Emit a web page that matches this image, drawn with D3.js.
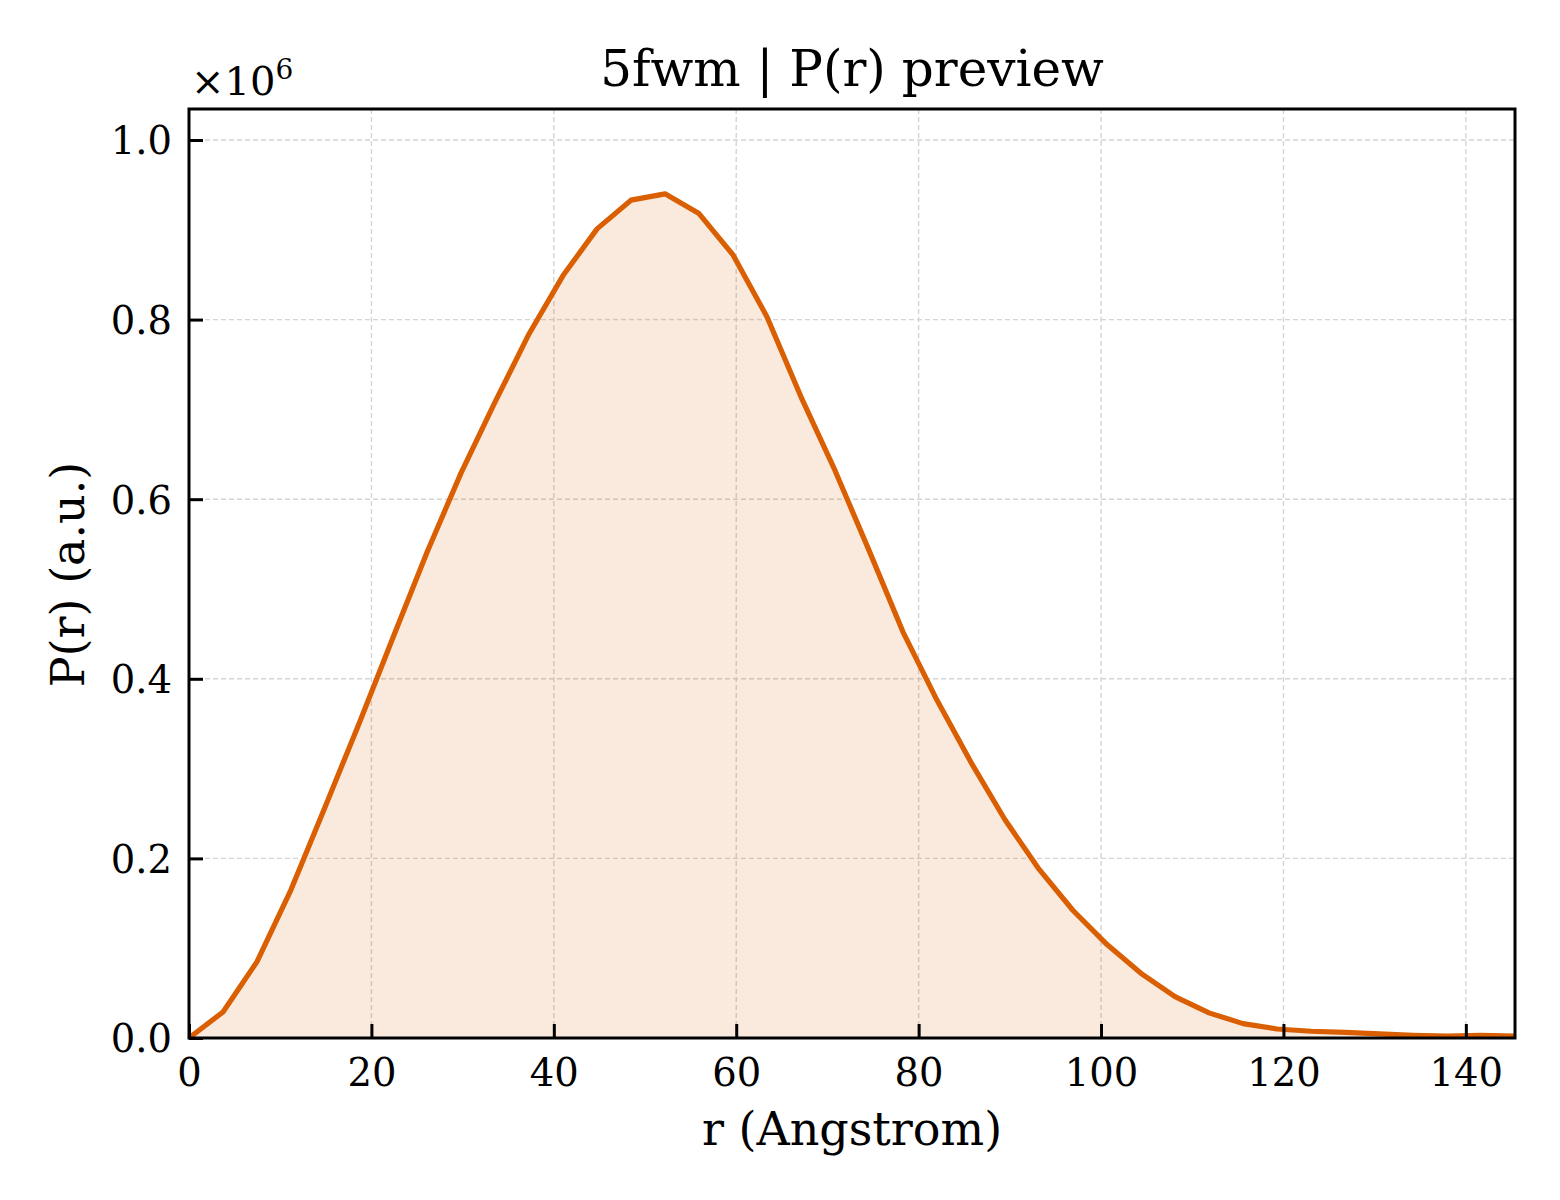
<!DOCTYPE html>
<html><head><meta charset="utf-8">
<script src="https://cdn.jsdelivr.net/npm/d3@7"></script>
<style>
body{margin:0;background:#fff}
svg{display:block}
text{font-family:"DejaVu Serif",serif;fill:#000}
</style>
</head><body>
<svg id="chart" width="1560" height="1200"></svg>
<script>
// r in Angstrom
const rValues = [0, 3.73, 7.46, 11.18, 14.91, 18.64, 22.37, 26.10, 29.82, 33.55,
  37.28, 41.01, 44.74, 48.46, 52.19, 55.92, 59.65, 63.38, 67.10, 70.83,
  74.56, 78.29, 82.02, 85.74, 89.47, 93.20, 96.93, 100.66, 104.38, 108.11,
  111.84, 115.57, 119.30, 123.02, 126.75, 130.48, 134.21, 137.94, 141.66, 145.39];
// P(r) in units of 1e6
const prValues = [0.000, 0.029, 0.085, 0.165, 0.257, 0.350, 0.446, 0.541, 0.629, 0.708,
  0.784, 0.849, 0.901, 0.933, 0.940, 0.918, 0.872, 0.803, 0.714, 0.632,
  0.543, 0.452, 0.376, 0.307, 0.243, 0.188, 0.142, 0.104, 0.072, 0.046,
  0.028, 0.016, 0.010, 0.0075, 0.0063, 0.0045, 0.003, 0.002, 0.003, 0.002];
const xTickValues = [0, 20, 40, 60, 80, 100, 120, 140];
const yTickValues = [0.0, 0.2, 0.4, 0.6, 0.8, 1.0];
const titleText = "5fwm | P(r) preview";
const xLabelText = "r (Angstrom)";
const yLabelText = "P(r) (a.u.)";

const svg = d3.select("#chart");
const L = 189, R = 1515, T = 109, B = 1038;
const x = d3.scaleLinear().domain([0, 145.39]).range([L, R]);
const y = d3.scaleLinear().domain([0, 1.0345]).range([B, T]);
const data = rValues.map((r, i) => ({r, p: prValues[i]}));
const orange = "#d95f02";

// grid
const grid = svg.append("g");
grid.selectAll("line.gx").data(xTickValues).join("line")
  .attr("x1", d => x(d)).attr("x2", d => x(d)).attr("y1", T).attr("y2", B)
  .attr("stroke", "#d4d4d4").attr("stroke-width", 1.4).attr("stroke-dasharray", "5,3");
grid.selectAll("line.gy").data(yTickValues).join("line")
  .attr("y1", d => y(d)).attr("y2", d => y(d)).attr("x1", L).attr("x2", R)
  .attr("stroke", "#d4d4d4").attr("stroke-width", 1.4).attr("stroke-dasharray", "5,3");

// area + line
svg.append("path").datum(data)
  .attr("d", d3.area().x(d => x(d.r)).y0(y(0)).y1(d => y(d.p)))
  .attr("fill", orange).attr("fill-opacity", 0.13);
svg.append("path").datum(data)
  .attr("d", d3.line().x(d => x(d.r)).y(d => y(d.p)))
  .attr("fill", "none").attr("stroke", orange).attr("stroke-width", 5.2)
  .attr("stroke-linejoin", "round");

// axes (inward ticks)
const xAxis = d3.axisBottom(x).tickValues(xTickValues).tickFormat(d3.format("d"))
  .tickSizeInner(-14).tickSizeOuter(0).tickPadding(21);
const gx = svg.append("g").attr("transform", `translate(0,${B})`).call(xAxis);
const yAxis = d3.axisLeft(y).tickValues(yTickValues).tickFormat(d3.format(".1f"))
  .tickSizeInner(-14).tickSizeOuter(0).tickPadding(17);
const gy = svg.append("g").attr("transform", `translate(${L},0)`).call(yAxis);
[gx, gy].forEach(g => {
  g.select(".domain").remove();
  g.selectAll(".tick line").attr("stroke", "#000").attr("stroke-width", 3);
  g.selectAll(".tick text").attr("font-family", "DejaVu Serif").attr("font-size", 38.5).attr("fill", "#000");
});
gx.selectAll(".tick text").attr("dy", "0.71em");
gy.selectAll(".tick text").attr("dy", "0.36em");

// frame
svg.append("rect").attr("x", L).attr("y", T).attr("width", R - L).attr("height", B - T)
  .attr("fill", "none").attr("stroke", "#000").attr("stroke-width", 3);

// texts
svg.append("text").attr("x", (L + R) / 2).attr("y", 86).attr("text-anchor", "middle")
  .attr("font-size", 50).text(titleText);
svg.append("text").attr("x", (L + R) / 2).attr("y", 1145).attr("text-anchor", "middle")
  .attr("font-size", 46).text(xLabelText);
svg.append("text").attr("transform", `translate(84,${(T + B) / 2 + 1}) rotate(-90)`)
  .attr("text-anchor", "middle").attr("font-size", 46).text(yLabelText);
const off = svg.append("text").attr("x", 191).attr("y", 95).attr("font-size", 40);
off.append("tspan").text("×10");
off.append("tspan").attr("font-size", 28).attr("dy", -16).text("6");
</script>
</body></html>
